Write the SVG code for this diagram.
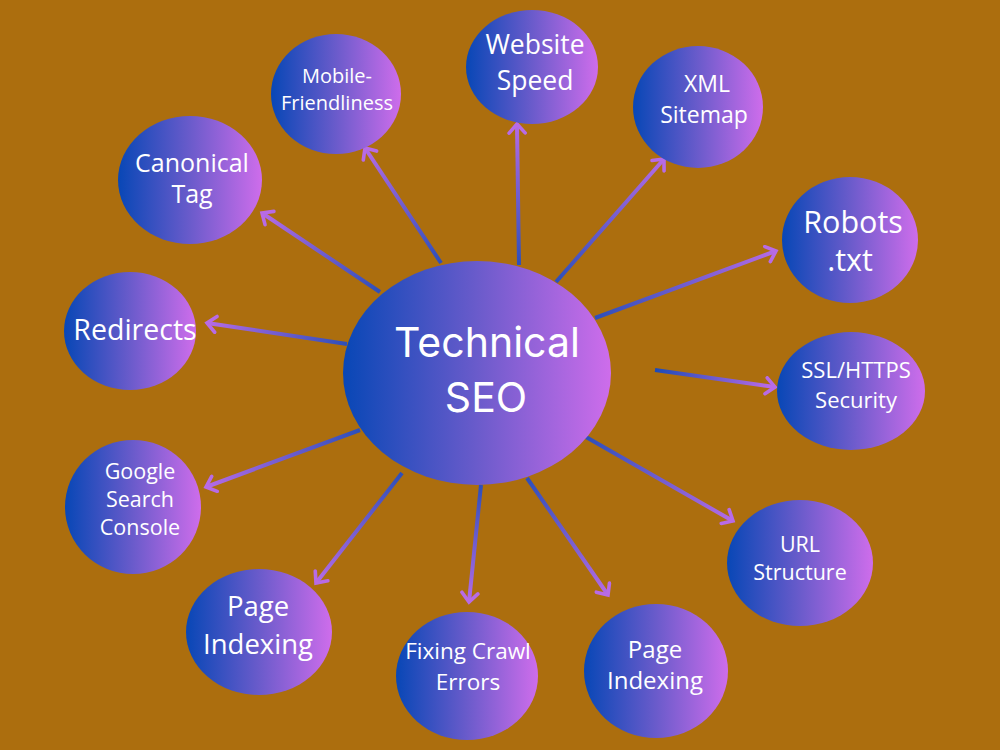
<svg xmlns="http://www.w3.org/2000/svg" width="1000" height="750" viewBox="0 0 1000 750">
<defs>
<style>
.n{fill:url(#g)}
.t{font-family:"Open Sans","Liberation Sans",sans-serif;fill:#fff;text-anchor:middle}
.c{font-family:Inter,"Open Sans",sans-serif;fill:#fff;text-anchor:middle}
.e{fill:none;stroke-width:4;stroke-linecap:butt;marker-end:url(#ah)}
</style>
<linearGradient id="g" x1="0" y1="0" x2="1" y2="0">
<stop offset="0" stop-color="#0847B6"/>
<stop offset="0.5" stop-color="#6A5BCB"/>
<stop offset="1" stop-color="#CE6DEB"/>
</linearGradient>
<marker id="ah" markerWidth="20" markerHeight="20" refX="12" refY="10" orient="auto" markerUnits="userSpaceOnUse" viewBox="0 0 20 20">
<path d="M3,2 L12,10 L3,18" fill="none" stroke="#B86BE6" stroke-width="3.6" stroke-linecap="round" stroke-linejoin="miter"/>
</marker>
<linearGradient id="l1" gradientUnits="userSpaceOnUse" x1="441" y1="263" x2="365" y2="148"><stop offset="0" stop-color="#2D4FBA"/><stop offset="1" stop-color="#B56BE6"/></linearGradient>
<linearGradient id="l2" gradientUnits="userSpaceOnUse" x1="519" y1="265" x2="517" y2="124"><stop offset="0" stop-color="#2D4FBA"/><stop offset="1" stop-color="#B56BE6"/></linearGradient>
<linearGradient id="l3" gradientUnits="userSpaceOnUse" x1="556" y1="282" x2="664" y2="159"><stop offset="0" stop-color="#2D4FBA"/><stop offset="1" stop-color="#B56BE6"/></linearGradient>
<linearGradient id="l4" gradientUnits="userSpaceOnUse" x1="380" y1="292" x2="262" y2="213"><stop offset="0" stop-color="#2D4FBA"/><stop offset="1" stop-color="#B56BE6"/></linearGradient>
<linearGradient id="l5" gradientUnits="userSpaceOnUse" x1="595" y1="318" x2="776" y2="251"><stop offset="0" stop-color="#2D4FBA"/><stop offset="1" stop-color="#B56BE6"/></linearGradient>
<linearGradient id="l6" gradientUnits="userSpaceOnUse" x1="347" y1="344" x2="207" y2="323"><stop offset="0" stop-color="#2D4FBA"/><stop offset="1" stop-color="#B56BE6"/></linearGradient>
<linearGradient id="l7" gradientUnits="userSpaceOnUse" x1="655" y1="370" x2="775" y2="387"><stop offset="0" stop-color="#1C4BB8"/><stop offset="1" stop-color="#C06CE8"/></linearGradient>
<linearGradient id="l8" gradientUnits="userSpaceOnUse" x1="360" y1="430" x2="206" y2="487"><stop offset="0" stop-color="#2D4FBA"/><stop offset="1" stop-color="#B56BE6"/></linearGradient>
<linearGradient id="l9" gradientUnits="userSpaceOnUse" x1="586" y1="437" x2="733" y2="521"><stop offset="0" stop-color="#2D4FBA"/><stop offset="1" stop-color="#B56BE6"/></linearGradient>
<linearGradient id="l10" gradientUnits="userSpaceOnUse" x1="402" y1="473" x2="316" y2="583"><stop offset="0" stop-color="#2D4FBA"/><stop offset="1" stop-color="#B56BE6"/></linearGradient>
<linearGradient id="l11" gradientUnits="userSpaceOnUse" x1="481" y1="485" x2="469" y2="602"><stop offset="0" stop-color="#2D4FBA"/><stop offset="1" stop-color="#B56BE6"/></linearGradient>
<linearGradient id="l12" gradientUnits="userSpaceOnUse" x1="527" y1="478" x2="608" y2="595"><stop offset="0" stop-color="#2D4FBA"/><stop offset="1" stop-color="#B56BE6"/></linearGradient>
</defs>
<rect width="1000" height="750" fill="#AC6E0E"/>
<g id="connectors">
<line class="e" stroke="url(#l1)" x1="441" y1="263" x2="365" y2="148"/>
<line class="e" stroke="url(#l2)" x1="519" y1="265" x2="517" y2="124"/>
<line class="e" stroke="url(#l3)" x1="556" y1="282" x2="664" y2="159"/>
<line class="e" stroke="url(#l4)" x1="380" y1="292" x2="262" y2="213"/>
<line class="e" stroke="url(#l5)" x1="595" y1="318" x2="776" y2="251"/>
<line class="e" stroke="url(#l6)" x1="347" y1="344" x2="207" y2="323"/>
<line class="e" stroke="url(#l7)" x1="655" y1="370" x2="775" y2="387"/>
<line class="e" stroke="url(#l8)" x1="360" y1="430" x2="206" y2="487"/>
<line class="e" stroke="url(#l9)" x1="586" y1="437" x2="733" y2="521"/>
<line class="e" stroke="url(#l10)" x1="402" y1="473" x2="316" y2="583"/>
<line class="e" stroke="url(#l11)" x1="481" y1="485" x2="469" y2="602"/>
<line class="e" stroke="url(#l12)" x1="527" y1="478" x2="608" y2="595"/>
</g>
<g id="center">
<ellipse class="n" cx="477" cy="373" rx="134" ry="112"/>
<text class="c" x="487" y="357" font-size="41">Technical</text>
<text class="c" x="486" y="412" font-size="41">SEO</text>
</g>
<g id="mobile">
<ellipse class="n" cx="336" cy="94" rx="65" ry="60"/>
<text class="t" x="337" y="83" font-size="20">Mobile-</text>
<text class="t" x="337" y="110" font-size="20">Friendliness</text>
</g>
<g id="speed">
<ellipse class="n" cx="532" cy="67" rx="66" ry="57"/>
<text class="t" x="535" y="54" font-size="26.5">Website</text>
<text class="t" x="535" y="90" font-size="26.5">Speed</text>
</g>
<g id="xml">
<ellipse class="n" cx="698" cy="107" rx="65" ry="61"/>
<text class="t" x="707" y="92" font-size="23">XML</text>
<text class="t" x="704" y="123" font-size="23">Sitemap</text>
</g>
<g id="canonical">
<ellipse class="n" cx="190" cy="180" rx="72" ry="64"/>
<text class="t" x="192" y="172" font-size="25">Canonical</text>
<text class="t" x="192" y="203" font-size="25">Tag</text>
</g>
<g id="robots">
<ellipse class="n" cx="850" cy="240" rx="68" ry="63"/>
<text class="t" x="853" y="233" font-size="30.5">Robots</text>
<text class="t" x="850" y="271" font-size="30.5">.txt</text>
</g>
<g id="redirects">
<ellipse class="n" cx="130" cy="331" rx="66" ry="59"/>
<text class="t" x="135" y="340" font-size="28.5">Redirects</text>
</g>
<g id="ssl">
<ellipse class="n" cx="851" cy="391" rx="74" ry="59"/>
<text class="t" x="856" y="378" font-size="22">SSL/HTTPS</text>
<text class="t" x="856" y="408" font-size="22">Security</text>
</g>
<g id="gsc">
<ellipse class="n" cx="133" cy="507" rx="68" ry="67"/>
<text class="t" x="140" y="479" font-size="21.5">Google</text>
<text class="t" x="140" y="507" font-size="21.5">Search</text>
<text class="t" x="140" y="535" font-size="21.5">Console</text>
</g>
<g id="url">
<ellipse class="n" cx="800" cy="563" rx="73" ry="63"/>
<text class="t" x="800" y="552" font-size="21.5">URL</text>
<text class="t" x="800" y="580" font-size="21.5">Structure</text>
</g>
<g id="page-left">
<ellipse class="n" cx="259" cy="632" rx="73" ry="63"/>
<text class="t" x="258" y="616" font-size="27.5">Page</text>
<text class="t" x="258" y="654" font-size="27.5">Indexing</text>
</g>
<g id="crawl">
<ellipse class="n" cx="467" cy="676" rx="71" ry="64"/>
<text class="t" x="468" y="659" font-size="22.5">Fixing Crawl</text>
<text class="t" x="468" y="690" font-size="22.5">Errors</text>
</g>
<g id="page-right">
<ellipse class="n" cx="656" cy="671" rx="72" ry="67"/>
<text class="t" x="655" y="658" font-size="24">Page</text>
<text class="t" x="655" y="689" font-size="24">Indexing</text>
</g>
</svg>
